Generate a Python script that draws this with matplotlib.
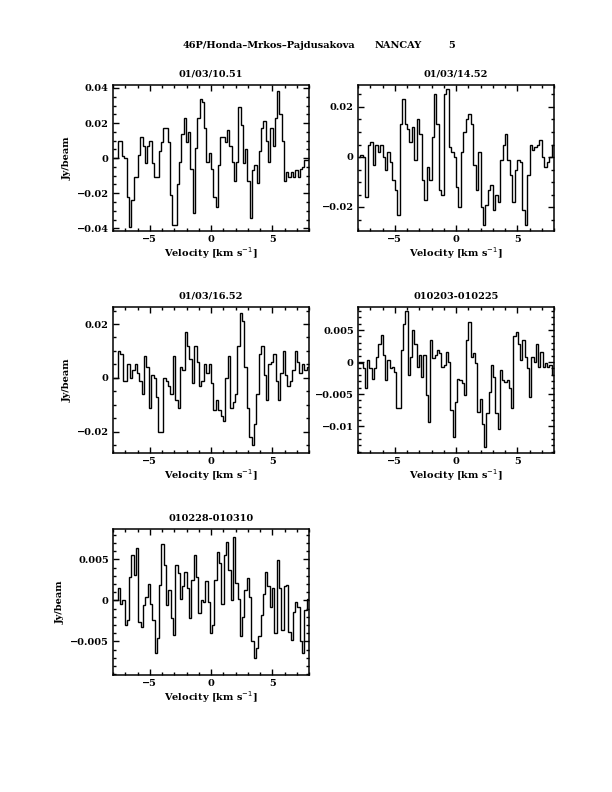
import numpy as np
import matplotlib
matplotlib.use('Agg')
import matplotlib.pyplot as plt
from matplotlib.ticker import MultipleLocator, FuncFormatter

# spectra (velocity -8..8 km/s, evenly spaced channels)
spec1 = np.array([0, 0, 10, 10, 1, 0, -22, -39, -24, -11, -11, 2, 12, 7, -3, 7, 10, -3, -11, -11,
                  4, 9, 17, 17, 9, -21, -38, -38, -15, -2, 14, 23, 9, 15, -6, -31, 6, 23, 34, 32,
                  17, -2, 3, -6, -22, -28, -4, 12, 12, 9, 16, 7, -2, -13, -2, 29, 19, -3, 5, -13,
                  -34, -7, -4, -14, 4, 17, 21, 10, -2, 17, 7, 23, 38, 25, 10, -13, -8, -11, -8, -11,
                  -7, -11, -6, -5, -1, -1]) * 1e-3
spec2 = np.array([0, 1, 0, -16, 5, 6, -3, 5, 2, 5, 0, -5, 2, -2, -9, -13, -23, 13, 23, 13,
                  11, 6, 12, -1, 15, 9, -9, -17, -4, -9, 8, 25, 13, -13, -15, 25, 27, 4, 2,
                  0, -12, -20, 2, 10, 15, 17, 13, -3, -13, 2, -20, -27, -19, -13, -11, -21, -15, -18,
                  -1, 5, 9, -1, -7, -18, -5, -1, -2, -21, -27, -7, 5, 3, 4, 5, 7, 0, -4, -2, 0, 5]) * 1e-3
spec3 = np.array([0, 0, 10, 9, -1, -1, 5, 0, 3, 5, 2, -1, -6, 8, 4, -11, 1, 0, -7, -20, -20, 0,
                  -1, -3, -6, 8, -8, -11, 4, 3, 17, 12, 7, -2, 12, 6, -3, -1, 5,
                  2, 5, -2, -12, -8, -12, -14, -16, 0, 8, -11, -9, -6, 12, 24, 21, 4, -11, -22, -25,
                  -17, -6, 9, 12, 1, -8, 5, 6, 9, -1, -8, 2, 10, 1, -3, -1, 3, 10, 6, 2, 5, 3, 4]) * 1e-3
spec4 = np.array([-1, -1, -10, -41, 3, -10, -26, -10, 8, 29, 42, 11, -28, 3, -10, -7, -15, -72, -72, 19,
                  60, 79, -20, 8, 50, 29, -7, 11, -23, 11, -52, -93, 34, 6, 11, 19, 14, -7, -5, 16,
                  0, -75, -117, -62, -26, -28, -33, -52, 34, 63, 8, 14, -2, -78, -57, -96, -132, -80, -46, -5,
                  -23, -80, -104, -13, -28, -31, -28, -41, -72, 40, 47, 29, 3, 34, 8, -10, -54, 8, 0, 29,
                  -7, 16, -7, -2, -7, -5, -20]) * 1e-4
spec5 = np.array([0, 0, 15, -4, 0, -30, -24, 29, 55, 31, 64, -26, -33, -6, 4, 20, -4, -24, -64, -46,
                  19, 69, 43, -6, 13, -22, -42, 43, 33, 2, 17, 35, 15, -22, 25, 55, 29, -16, 0, -2,
                  23, -2, -40, -30, 25, 59, 45, -4, 55, 71, 37, 0, 77, 21, 2, -44, -20, 13, 27, 4,
                  -50, -70, -58, -44, -18, 8, 35, 17, -8, 15, -40, 49, 15, -36, 17, 19, -38, -48, -14, -2,
                  -8, -50, -64, -12, 2]) * 1e-4

titles = ['01/03/10.51', '01/03/14.52', '01/03/16.52', '010203-010225', '010228-010310']
spectra = [spec1, spec2, spec3, spec4, spec5]
ylims = [(-0.0415, 0.0417), (-0.0296, 0.0288), (-0.0278, 0.0263), (-0.0142, 0.0086), (-0.0091, 0.0087)]
ymajor = [0.02, 0.02, 0.02, 0.005, 0.005]
yminor = [0.005, 0.005, 0.005, 0.001, 0.001]

W, H = 612, 792
boxes = [(113, 85), (358, 85), (113, 307), (358, 307), (113, 529)]  # left, top in px
bw, bh = 196, 146

fnt = dict(family='DejaVu Serif', weight='bold', size=7)

fig = plt.figure(figsize=(6.12, 7.92), dpi=100)
fig.text(269 / W, 1 - 45 / H, '46P/Honda\u2013Mrkos\u2013Pajdusakova', ha='center', va='center', **fnt)
fig.text(398 / W, 1 - 45 / H, 'NANCAY', ha='center', va='center', **fnt)
fig.text(452 / W, 1 - 45 / H, '5', ha='center', va='center', **fnt)


def fmt(v, pos):
    if abs(v) < 1e-12:
        return '0'
    return ('%g' % v).replace('-', '\u2212')


for i, (sp, (l, t)) in enumerate(zip(spectra, boxes)):
    ax = fig.add_axes([l / W, 1 - (t + bh) / H, bw / W, bh / H])
    edges = np.linspace(-8, 8, len(sp) + 1)
    ax.stairs(sp, edges, baseline=None, color='black', lw=1.0)
    ax.set_xlim(-8, 8)
    ax.set_ylim(*ylims[i])
    ax.xaxis.set_major_locator(MultipleLocator(5))
    ax.xaxis.set_minor_locator(MultipleLocator(1))
    ax.yaxis.set_major_locator(MultipleLocator(ymajor[i]))
    ax.yaxis.set_minor_locator(MultipleLocator(yminor[i]))
    ax.yaxis.set_major_formatter(FuncFormatter(fmt))
    ax.xaxis.set_major_formatter(FuncFormatter(fmt))
    ax.tick_params(which='both', direction='in', top=True, right=True, width=1.0, labelsize=7)
    ax.tick_params(which='major', length=4.5, pad=3)
    ax.tick_params(which='minor', length=2.5)
    for lab in ax.get_xticklabels() + ax.get_yticklabels():
        lab.set_family('DejaVu Serif')
        lab.set_weight('bold')
    for s in ax.spines.values():
        s.set_linewidth(1.1)
    ax.set_title(titles[i], pad=6, **fnt)
    ax.set_xlabel('Velocity [km s$^{-1}$]', labelpad=1, **fnt)
    if l < 200:
        ax.set_ylabel('Jy/beam', labelpad=4, **fnt)

fig.savefig('out.png', dpi=100)
